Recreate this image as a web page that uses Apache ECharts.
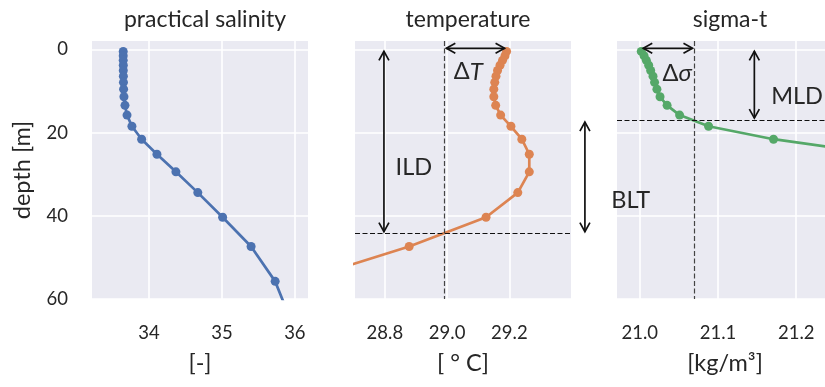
<!DOCTYPE html>
<html>
<head>
<meta charset="utf-8">
<script src="https://cdn.jsdelivr.net/npm/echarts@6/dist/echarts.min.js"></script>
<style>
html,body{margin:0;padding:0;background:#fff;}
#chart{width:825px;height:387px;}
</style>
</head>
<body>
<div id="chart"></div>
<script>
// ---------- data ----------
const depths = [0.494, 1.541, 2.646, 3.819, 5.078, 6.441, 7.929, 9.573, 11.405, 13.467, 15.810, 18.496, 21.599, 25.211, 29.445, 34.434, 40.344, 47.374, 55.764, 65.807];
const salinity = [33.648, 33.648, 33.648, 33.649, 33.649, 33.650, 33.651, 33.653, 33.658, 33.672, 33.700, 33.767, 33.900, 34.110, 34.370, 34.670, 35.010, 35.400, 35.730, 35.960];
const temperature = [29.191, 29.186, 29.178, 29.170, 29.162, 29.157, 29.153, 29.150, 29.150, 29.156, 29.172, 29.205, 29.240, 29.264, 29.264, 29.227, 29.125, 28.878, 28.520, 28.250];
const sigmaT = [21.002, 21.0055, 21.0085, 21.0115, 21.014, 21.017, 21.019, 21.022, 21.026, 21.035, 21.051, 21.088, 21.171, 21.310, 21.420, 21.550, 21.680, 21.880, 22.100, 22.300];

const panelTitles = ['practical salinity', 'temperature', 'sigma-t'];
const unitLabels = ['[-]', '[ ° C]', '[kg/m³]'];
const depthTicks = [0, 20, 40, 60];
const salinityTicks = [34, 35, 36];
const temperatureTicks = [28.8, 29.0, 29.2];
const sigmaTicks = [21.0, 21.1, 21.2];

const tempThreshold = 28.991;   // surface T - dT
const sigmaThreshold = 21.070;  // surface sigma + dsigma
const ild = 44.3;
const mld = 17.0;

// arrows: [x1, y1, x2, y2]
const tempArrows = [[tempThreshold, -0.25, temperature[0], -0.25], [28.797, 0, 28.797, ild]];
const sigmaArrows = [[sigmaT[0], -0.25, sigmaThreshold, -0.25], [21.1465, 0, 21.1465, mld], [20.930, mld, 20.930, ild]];
// labels: [x, y]
const tempLabelPos = [[29.068, 5.4], [28.893, 28.4]];
const tempLabelText = [['Δ', 'T'], ['ILD', '']];
const sigmaLabelPos = [[21.0478, 5.8], [21.168, 11.4], [20.9885, 36.2]];
const sigmaLabelText = [['Δ', 'σ'], ['MLD', ''], ['BLT', '']];
const sigmaLabelAlign = ['center', 'left', 'center'];

// ---------- style ----------
const FONT = 'Lato';
const TXT = '#262626';
const BG = '#eaeaf2';
const colors = ['#4c72b0', '#dd8452', '#55a868'];

const gridLefts = [92, 355, 617];
const grids = gridLefts.map(l => ({
  left: l, top: 41, width: 216, height: 258,
  show: true, backgroundColor: BG, borderWidth: 0,
  containLabel: false, outerBoundsMode: 'none'
}));

function xAxisDef(i, min, max, ticks, fmt) {
  return {
    type: 'value', gridIndex: i, min: min, max: max,
    axisLine: {show: false},
    axisTick: {show: false, customValues: ticks},
    axisLabel: {customValues: ticks, color: TXT, fontFamily: FONT, fontSize: 18.5, margin: 25,
      formatter: fmt},
    splitLine: {show: true, lineStyle: {color: '#ffffff', width: 1.6}},
    name: unitLabels[i], nameLocation: 'middle', nameGap: 52,
    nameTextStyle: {color: TXT, fontFamily: FONT, fontSize: 23.5}
  };
}
function yAxisDef(i) {
  return {
    type: 'value', gridIndex: i, min: -2, max: 60, inverse: true,
    axisLine: {show: false},
    axisTick: {show: false, customValues: depthTicks},
    axisLabel: {show: i === 0, customValues: depthTicks, color: TXT, fontFamily: FONT, fontSize: 18.5, margin: 24},
    splitLine: {show: true, lineStyle: {color: '#ffffff', width: 1.6}},
    name: i === 0 ? 'depth [m]' : '', nameLocation: 'middle', nameGap: 58,
    nameTextStyle: {color: TXT, fontFamily: FONT, fontSize: 23.5}
  };
}

function profile(vals) { return vals.map((v, k) => [v, depths[k]]); }

function lineSeries(i, vals) {
  return {
    type: 'line', xAxisIndex: i, yAxisIndex: i,
    data: profile(vals), clip: true,
    symbol: 'circle', symbolSize: 9, showSymbol: true,
    lineStyle: {color: colors[i], width: 2.7},
    itemStyle: {color: colors[i]},
    animation: false, z: 3
  };
}

function arrowRender(params, api) {
  const p1 = api.coord([api.value(0), api.value(1)]);
  const p2 = api.coord([api.value(2), api.value(3)]);
  const dx = p2[0] - p1[0], dy = p2[1] - p1[1];
  const len = Math.sqrt(dx * dx + dy * dy);
  const ux = dx / len, uy = dy / len;
  const s = 2;
  const a = [p1[0] + ux * s, p1[1] + uy * s];
  const b = [p2[0] - ux * s, p2[1] - uy * s];
  const hl = 9, hw = 5;
  const head = (t, ex, ey) => [[t[0] + ex * hl - ey * hw, t[1] + ey * hl + ex * hw], [t[0], t[1]], [t[0] + ex * hl + ey * hw, t[1] + ey * hl - ex * hw]];
  const st = {stroke: '#111111', lineWidth: 1.7, fill: null};
  return {type: 'group', children: [
    {type: 'line', shape: {x1: a[0], y1: a[1], x2: b[0], y2: b[1]}, style: st},
    {type: 'polyline', shape: {points: head(a, ux, uy)}, style: st},
    {type: 'polyline', shape: {points: head(b, -ux, -uy)}, style: st}
  ]};
}

function labelRender(texts, aligns) {
  return function (params, api) {
    const p = api.coord([api.value(0), api.value(1)]);
    const t = texts[params.dataIndex];
    return {
      type: 'text', x: p[0], y: p[1],
      style: {
        text: t[1] ? '{n|' + t[0] + '}{i|' + t[1] + '}' : '{n|' + t[0] + '}',
        align: aligns ? aligns[params.dataIndex] : 'center', verticalAlign: 'middle',
        rich: {
          n: {fontFamily: FONT, fontSize: 23.5, fill: TXT, color: TXT},
          i: {fontFamily: FONT, fontStyle: 'italic', fontSize: 24, fill: TXT, color: TXT}
        }
      }
    };
  };
}

const option = {
  animation: false,
  backgroundColor: '#ffffff',
  title: panelTitles.map((t, i) => ({
    text: t, left: gridLefts[i] + 108, top: 3, textAlign: 'center',
    textStyle: {color: TXT, fontFamily: FONT, fontSize: 23, fontWeight: 'normal'}
  })),
  grid: grids,
  xAxis: [
    xAxisDef(0, 33.22, 36.18, salinityTicks, v => String(Math.round(v))),
    xAxisDef(1, 28.704, 29.398, temperatureTicks, v => v.toFixed(1)),
    xAxisDef(2, 20.971, 21.247, sigmaTicks, v => v.toFixed(1))
  ],
  yAxis: [yAxisDef(0), yAxisDef(1), yAxisDef(2)],
  series: [
    lineSeries(0, salinity),
    Object.assign(lineSeries(1, temperature), {
      markLine: {
        symbol: 'none', silent: true, label: {show: false}, animation: false,
        data: [
          {xAxis: tempThreshold, lineStyle: {color: '#444444', width: 1.2, type: [5, 2.5]}},
          {yAxis: ild, lineStyle: {color: '#111111', width: 1.2, type: [5, 2.5]}}
        ]
      }
    }),
    Object.assign(lineSeries(2, sigmaT), {
      markLine: {
        symbol: 'none', silent: true, label: {show: false}, animation: false,
        data: [
          {xAxis: sigmaThreshold, lineStyle: {color: '#444444', width: 1.2, type: [5, 2.5]}},
          {yAxis: mld, lineStyle: {color: '#111111', width: 1.2, type: [5, 2.5]}}
        ]
      }
    }),
    {type: 'custom', xAxisIndex: 1, yAxisIndex: 1, data: tempArrows, renderItem: arrowRender, clip: false, silent: true, z: 5,
      encode: {x: [0, 2], y: [1, 3]}},
    {type: 'custom', xAxisIndex: 2, yAxisIndex: 2, data: sigmaArrows, renderItem: arrowRender, clip: false, silent: true, z: 5,
      encode: {x: [0, 2], y: [1, 3]}},
    {type: 'custom', xAxisIndex: 1, yAxisIndex: 1, data: tempLabelPos, renderItem: labelRender(tempLabelText), clip: false, silent: true, z: 5},
    {type: 'custom', xAxisIndex: 2, yAxisIndex: 2, data: sigmaLabelPos, renderItem: labelRender(sigmaLabelText, sigmaLabelAlign), clip: false, silent: true, z: 5}
  ]
};

const chart = echarts.init(document.getElementById('chart'), null, {renderer: 'canvas'});
chart.setOption(option);
</script>
</body>
</html>
